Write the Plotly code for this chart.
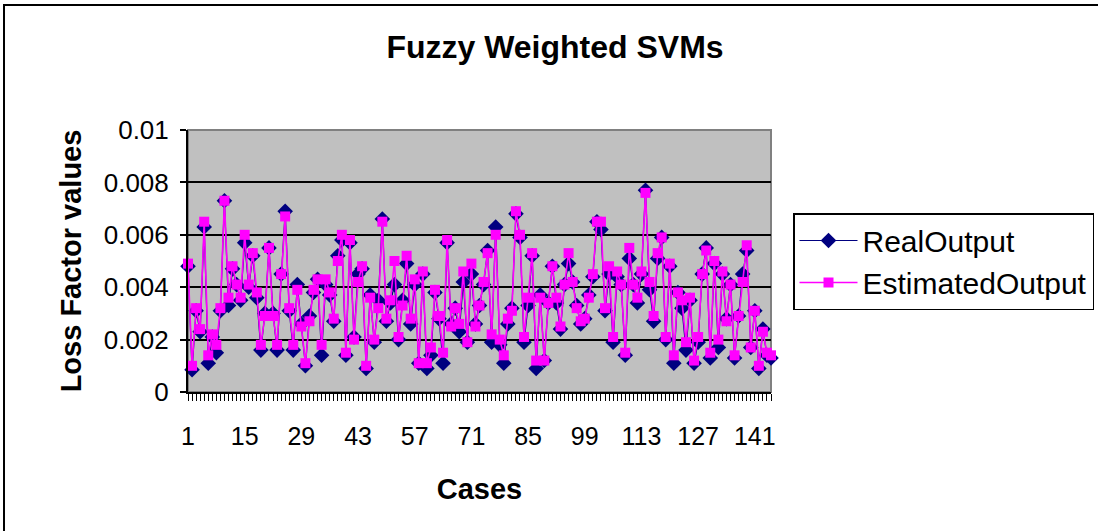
import plotly.graph_objects as go

cases = list(range(1, 146))

real_output = [
    0.0048, 0.00085, 0.0031, 0.0023, 0.0063, 0.0011, 0.0021, 0.0015, 0.0031, 0.0073,
    0.0033, 0.0047, 0.0041, 0.0035, 0.0057, 0.0040, 0.0052, 0.0036, 0.0016, 0.0030,
    0.0055, 0.0030, 0.0016, 0.0045, 0.0069, 0.0031, 0.0016, 0.0041, 0.0026, 0.0010,
    0.0029, 0.0038, 0.0043, 0.0014, 0.0041, 0.0037, 0.0027, 0.0052, 0.0058, 0.0014,
    0.0057, 0.0021, 0.0045, 0.0047, 0.0009, 0.0037, 0.0019, 0.0035, 0.0066, 0.0027,
    0.0034, 0.0041, 0.0020, 0.0035, 0.0049, 0.0026, 0.0041, 0.0011, 0.0045, 0.0009,
    0.0014, 0.0038, 0.0028, 0.0011, 0.0057, 0.0026, 0.0032, 0.0023, 0.0042, 0.0019,
    0.0045, 0.0026, 0.0033, 0.0041, 0.0054, 0.0019, 0.0063, 0.0018, 0.0011, 0.0026,
    0.0032, 0.0068, 0.0059, 0.0019, 0.0033, 0.0052, 0.0009, 0.0037, 0.0012, 0.0034,
    0.0048, 0.0034, 0.0024, 0.0041, 0.0049, 0.0042, 0.0033, 0.0026, 0.0028, 0.0037,
    0.0044, 0.0065, 0.0062, 0.0031, 0.0045, 0.0019, 0.0044, 0.0041, 0.0014, 0.0051,
    0.0041, 0.0034, 0.0045, 0.0077, 0.0039, 0.0027, 0.0051, 0.0059, 0.0020, 0.0048,
    0.0011, 0.0038, 0.0032, 0.0016, 0.0035, 0.0011, 0.0019, 0.0045, 0.0055, 0.0013,
    0.0049, 0.0017, 0.0045, 0.0028, 0.0041, 0.0013, 0.0029, 0.0045, 0.0054, 0.0017,
    0.0031, 0.0009, 0.0024, 0.0014, 0.0013,
]

estimated_output = [
    0.0049, 0.0010, 0.0032, 0.0024, 0.0065, 0.0014, 0.0022, 0.0018, 0.0032, 0.0073,
    0.0036, 0.0048, 0.0041, 0.0036, 0.0060, 0.0041, 0.0053, 0.0038, 0.0018, 0.0029,
    0.0055, 0.0029, 0.0018, 0.0045, 0.0067, 0.0032, 0.0018, 0.0039, 0.0025, 0.0011,
    0.0027, 0.0039, 0.0043, 0.0018, 0.0043, 0.0038, 0.0028, 0.0050, 0.0060, 0.0015,
    0.0058, 0.0020, 0.0042, 0.0048, 0.0010, 0.0036, 0.0020, 0.0032, 0.0065, 0.0028,
    0.0035, 0.0050, 0.0021, 0.0033, 0.0052, 0.0028, 0.0043, 0.0011, 0.0046, 0.0011,
    0.0017, 0.0039, 0.0029, 0.0015, 0.0058, 0.0025, 0.0032, 0.0026, 0.0046, 0.0019,
    0.0049, 0.0025, 0.0033, 0.0042, 0.0053, 0.0022, 0.0060, 0.0020, 0.0014, 0.0028,
    0.0031, 0.0069, 0.0060, 0.0021, 0.0036, 0.0053, 0.0012, 0.0036, 0.0012, 0.0034,
    0.0048, 0.0036, 0.0025, 0.0041, 0.0053, 0.0042, 0.0032, 0.0027, 0.0028, 0.0036,
    0.0045, 0.0065, 0.0065, 0.0032, 0.0048, 0.0021, 0.0046, 0.0041, 0.0015, 0.0055,
    0.0041, 0.0036, 0.0046, 0.0076, 0.0042, 0.0029, 0.0053, 0.0059, 0.0021, 0.0049,
    0.0014, 0.0038, 0.0035, 0.0019, 0.0036, 0.0012, 0.0021, 0.0045, 0.0054, 0.0015,
    0.0050, 0.0020, 0.0046, 0.0027, 0.0041, 0.0014, 0.0029, 0.0042, 0.0056, 0.0017,
    0.0031, 0.0010, 0.0023, 0.0015, 0.0014,
]

x_tick_values = list(range(1, 146, 14))
y_tick_values = [0, 0.002, 0.004, 0.006, 0.008, 0.01]
y_tick_labels = ["0", "0.002", "0.004", "0.006", "0.008", "0.01"]

FONT = "Liberation Sans, Arial, sans-serif"

fig = go.Figure()
fig.add_trace(go.Scatter(
    x=cases, y=real_output, name="RealOutput", mode="lines+markers",
    line=dict(color="#000080", width=1.2),
    marker=dict(symbol="diamond", size=12, color="#000080"),
    cliponaxis=False,
))
fig.add_trace(go.Scatter(
    x=cases, y=estimated_output, name="EstimatedOutput", mode="lines+markers",
    line=dict(color="#FF00FF", width=1.6),
    marker=dict(symbol="square", size=10, color="#FF00FF"),
    cliponaxis=False,
))

# outer chart border and plot-area border
fig.add_shape(type="rect", xref="paper", yref="paper",
              x0=-0.3156, y0=-0.7, x1=1.7, y1=1.477,
              line=dict(color="black", width=2), layer="below")
fig.add_shape(type="rect", xref="paper", yref="paper",
              x0=0, y0=0, x1=1, y1=1,
              line=dict(color="#808080", width=2), layer="below")

fig.update_layout(
    width=1098, height=531,
    margin=dict(l=188, r=327, t=130, b=139, autoexpand=False),
    paper_bgcolor="white", plot_bgcolor="#C0C0C0",
    font=dict(family=FONT, color="black"),
    title=dict(text="<b>Fuzzy Weighted SVMs</b>", x=555 / 1098, xanchor="center",
               y=1 - 47 / 531, yanchor="middle", font=dict(size=32)),
    showlegend=True,
    legend=dict(x=(793 - 188) / 583, xanchor="left", y=(392 - 213) / 262, yanchor="top",
                bordercolor="black", borderwidth=1.5, bgcolor="white",
                font=dict(size=30), itemwidth=58, tracegroupgap=0),
    xaxis=dict(
        range=[1, 145], tickmode="array", tickvals=x_tick_values,
        ticks="outside", ticklen=7, tickcolor="black", tickwidth=1,
        minor=dict(ticks="outside", ticklen=7, dtick=1, tick0=1, tickcolor="black", tickwidth=1),
        showgrid=False, zeroline=False, showline=True, linecolor="black", linewidth=2,
        tickfont=dict(size=25), ticklabelstandoff=14,
        title=dict(text="<b>Cases</b>", font=dict(size=29), standoff=30),
    ),
    yaxis=dict(
        range=[0, 0.01], tickmode="array", tickvals=y_tick_values, ticktext=y_tick_labels,
        ticks="outside", ticklen=6, tickcolor="black", tickwidth=2,
        showgrid=True, gridcolor="black", gridwidth=1.5, zeroline=False,
        showline=True, linecolor="black", linewidth=2,
        tickfont=dict(size=26), ticklabelstandoff=6,
        title=dict(text="<b>Loss Factor values</b>", font=dict(size=29), standoff=14),
    ),
)

fig.write_html("out.html", config={"displayModeBar": False},
               post_script="document.body.style.margin='0';")
